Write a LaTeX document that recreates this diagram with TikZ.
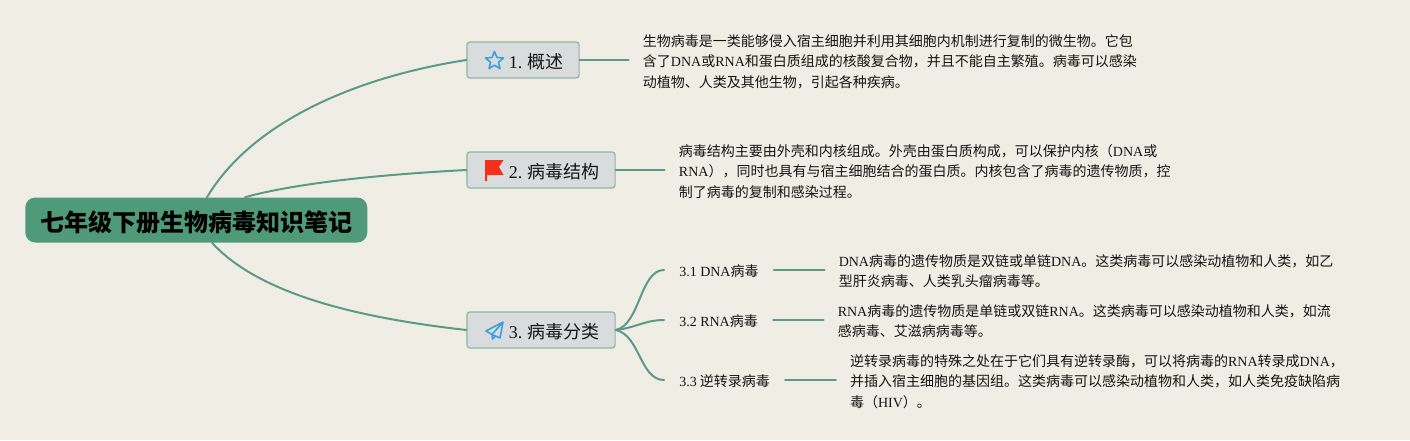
\documentclass[tikz,border=0pt]{standalone}
\usepackage{fontspec}
\setmainfont{Noto Sans CJK SC}
\newfontfamily\latfont{Liberation Serif}
\newcommand{\lat}[1]{{\latfont #1}}
\definecolor{bgc}{HTML}{F0EEE4}
\definecolor{branchc}{HTML}{5B9A8B}
\definecolor{rootc}{HTML}{4F9A78}
\definecolor{topicc}{HTML}{D8DCDC}
\definecolor{topicb}{HTML}{8FB5A8}
\definecolor{inkc}{HTML}{141414}
\definecolor{iconb}{HTML}{3D9FDC}
\definecolor{flagc}{HTML}{F5301A}
\tikzset{
  x=0.75pt,y=-0.75pt,
  rootbox/.style={fill=rootc,draw=none,rounded corners=7.5pt,minimum width=256.5pt,minimum height=33.75pt,inner sep=0pt,
    text height=17.5pt,text depth=0.8pt,
    font=\fontsize{18pt}{20pt}\selectfont\bfseries,text=black,anchor=west},
  topicbox/.style={fill=topicc,draw=topicb,line width=0.9pt,rounded corners=2.2pt,minimum height=27pt,inner xsep=11.5pt,inner ysep=0pt,
    text height=13pt,text depth=0.5pt,
    font=\fontsize{13.5pt}{16pt}\selectfont,text=inkc,anchor=west},
  subtopic/.style={inner xsep=11.25pt,inner ysep=0pt,text height=10pt,text depth=0.5pt,
    font=\fontsize{10.5pt}{14pt}\selectfont,text=inkc,anchor=west},
  detail/.style={inner xsep=10.5pt,inner ysep=0pt,align=left,font=\fontsize{10.5pt}{15.4pt}\selectfont,text=inkc,anchor=west},
  branch/.style={draw=branchc,line width=1.5pt,line cap=round},
}
\begin{document}
\begin{tikzpicture}
\useasboundingbox[fill=bgc] (0,0) rectangle (1410,440);
\node[rootbox] (root) at (25,220) {七年级下册生物病毒知识笔记};
\node[topicbox] (t1) at (466.3,60) {\hspace*{20pt}\lat{1.} 概述};
\node[topicbox] (t2) at (466.3,170) {\hspace*{20pt}\lat{2.} 病毒结构};
\node[topicbox] (t3) at (466.3,330) {\hspace*{20pt}\lat{3.} 病毒分类};
\node[detail] (d1) at (628.7,61.6) {生物病毒是一类能够侵入宿主细胞并利用其细胞内机制进行复制的微生物。它包\\含了\lat{DNA}或\lat{RNA}和蛋白质组成的核酸复合物，并且不能自主繁殖。病毒可以感染\\动植物、人类及其他生物，引起各种疾病。};
\node[detail] (d2) at (664.7,171.4) {病毒结构主要由外壳和内核组成。外壳由蛋白质构成，可以保护内核（\lat{DNA}或\\\lat{RNA}），同时也具有与宿主细胞结合的蛋白质。内核包含了病毒的遗传物质，控\\制了病毒的复制和感染过程。};
\node[subtopic] (s1) at (664,270) {\lat{3.1 DNA}病毒};
\node[subtopic] (s2) at (664,320) {\lat{3.2 RNA}病毒};
\node[subtopic] (s3) at (664,380) {\lat{3.3} 逆转录病毒};
\node[detail] (e1) at (824.5,271.2) {\lat{DNA}病毒的遗传物质是双链或单链\lat{DNA}。这类病毒可以感染动植物和人类，如乙\\型肝炎病毒、人类乳头瘤病毒等。};
\node[detail] (e2) at (823.5,321.2) {\lat{RNA}病毒的遗传物质是单链或双链\lat{RNA}。这类病毒可以感染动植物和人类，如流\\感病毒、艾滋病病毒等。};
\node[detail] (e3) at (835.8,381.4) {逆转录病毒的特殊之处在于它们具有逆转录酶，可以将病毒的\lat{RNA}转录成\lat{DNA}，\\并插入宿主细胞的基因组。这类病毒可以感染动植物和人类，如人类免疫缺陷病\\毒（\lat{HIV}）。};
% icons
\draw[iconb,line width=1.2pt,line join=round]
  (494.5,51.5) -- (497,57.5) -- (503.5,58) -- (498.5,62.3) -- (500,68.6) -- (494.5,65.2) -- (489,68.6) -- (490.5,62.3) -- (485.5,58) -- (492,57.5) -- cycle;
\fill[flagc] (485,160) -- (503.5,160) -- (499,167) -- (503.5,175) -- (487,175) -- (487,181) -- (485,181) -- cycle;
\draw[iconb,line width=1.2pt,line join=round]
  (503,322) -- (486,331) -- (492,334.5) -- cycle (503,322) -- (492,334.5) -- (492.5,339) -- (495.5,336) (503,322) -- (500,338) -- (492,334.5);
% connectors
\draw[branch] (root.north -| 207,197) .. controls (250,125) and (350,78) .. (t1.west);
\draw[branch] (root.north -| 245,197) .. controls (300,182) and (390,174) .. (t2.west);
\draw[branch] (root.south -| 212,242) .. controls (260,295) and (360,318) .. (t3.west);
\draw[branch] (t1.east) -- (t1.east -| d1.west);
\draw[branch] (t2.east) -- (t2.east -| d2.west);
\draw[branch] (t3.east) .. controls (640,325) and (640,270) .. (s1.west);
\draw[branch] (t3.east) .. controls (635,328) and (645,320) .. (s2.west);
\draw[branch] (t3.east) .. controls (640,335) and (640,380) .. (s3.west);
\draw[branch] (s1.east) -- (s1.east -| e1.west);
\draw[branch] (s2.east) -- (s2.east -| e2.west);
\draw[branch] (s3.east) -- (s3.east -| e3.west);
\end{tikzpicture}
\end{document}
